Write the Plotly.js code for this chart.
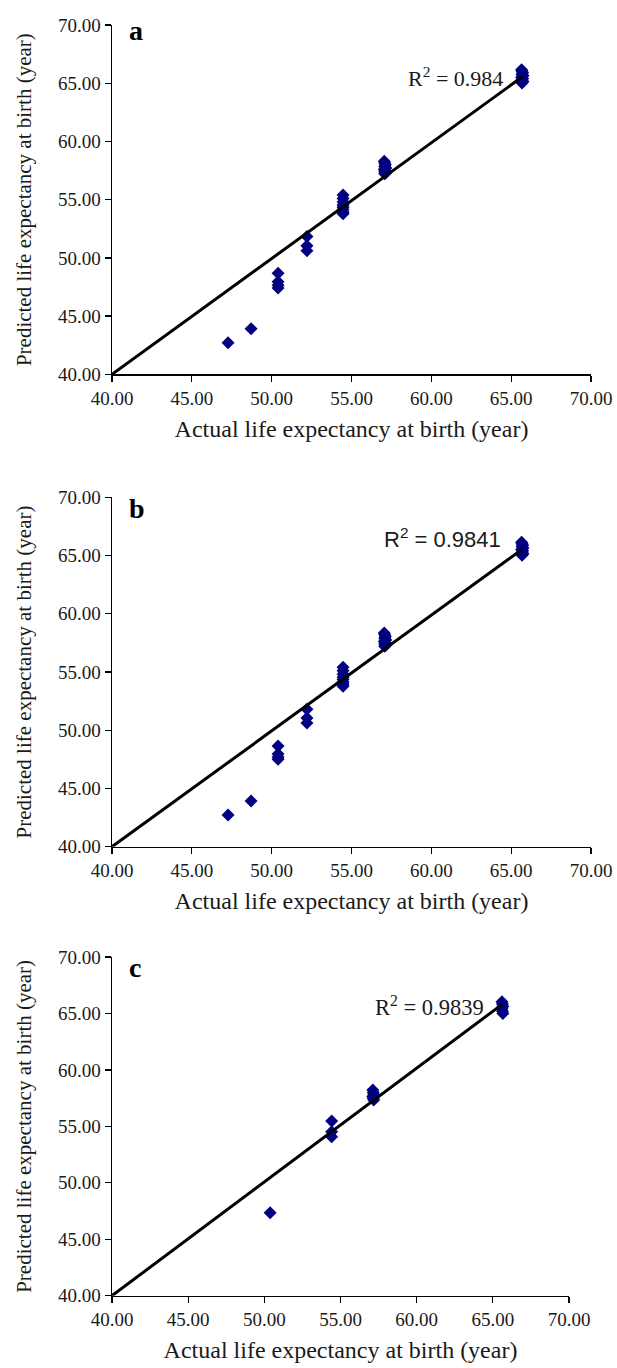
<!DOCTYPE html>
<html>
<head>
<meta charset="utf-8">
<script src="https://cdn.plot.ly/plotly-3.0.1.min.js"></script>
<style>html,body{margin:0;padding:0;background:#fff;}#chart{width:617px;height:1368px;}</style>
</head>
<body>
<div id="chart"></div>
<script>
// Panel a
const aActual = [47.27, 48.71, 50.40, 50.40, 50.40, 50.40, 52.21, 52.21, 52.21,
  54.47, 54.47, 54.47, 54.47, 54.47, 54.47, 54.47, 54.47,
  57.05, 57.08, 57.12, 57.08, 57.15, 57.05, 57.12, 57.08, 57.15, 57.08,
  65.65, 65.68, 65.72, 65.68, 65.74, 65.65, 65.72, 65.68, 65.74, 65.68];
const aPred = [42.72, 43.92, 48.68, 47.95, 47.65, 47.42, 51.83, 51.05, 50.62,
  55.41, 55.10, 54.80, 54.55, 54.35, 54.15, 53.95, 53.78,
  58.30, 58.15, 58.00, 57.85, 57.72, 57.60, 57.50, 57.40, 57.30, 57.22,
  66.15, 66.02, 65.90, 65.78, 65.65, 65.52, 65.40, 65.28, 65.15, 65.02];
const aFitX = [40.00, 65.70];
const aFitY = [40.00, 65.55];
// Panel b
const bActual = [47.27, 48.71, 50.40, 50.40, 50.40, 50.40, 52.21, 52.21, 52.21,
  54.47, 54.47, 54.47, 54.47, 54.47, 54.47, 54.47, 54.47,
  57.05, 57.08, 57.12, 57.08, 57.15, 57.05, 57.12, 57.08, 57.15, 57.08,
  65.65, 65.68, 65.72, 65.68, 65.74, 65.65, 65.72, 65.68, 65.74, 65.68];
const bPred = [42.72, 43.92, 48.65, 47.95, 47.70, 47.50, 51.80, 51.05, 50.62,
  55.40, 55.10, 54.80, 54.55, 54.35, 54.15, 53.95, 53.78,
  58.35, 58.20, 58.05, 57.90, 57.75, 57.62, 57.50, 57.40, 57.30, 57.22,
  66.15, 66.02, 65.90, 65.78, 65.65, 65.52, 65.40, 65.28, 65.15, 65.02];
const bFitX = [40.00, 65.70];
const bFitY = [40.00, 65.55];
// Panel c
const cActual = [50.38, 54.42, 54.42, 54.42,
  57.12, 57.15, 57.18, 57.12, 57.15, 57.18,
  65.60, 65.63, 65.66, 65.60, 65.63, 65.66];
const cPred = [47.35, 55.47, 54.52, 54.08,
  58.21, 58.00, 57.82, 57.65, 57.48, 57.33,
  66.03, 65.83, 65.62, 65.42, 65.20, 65.00];
const cFitX = [40.00, 65.63];
const cFitY = [40.00, 65.83];

const panelLetters = ['a', 'b', 'c'];
const r2Labels = ['R<sup>2</sup> = 0.984', 'R<sup>2</sup> = 0.9841', 'R<sup>2</sup> = 0.9839'];
const tickValues = [40, 45, 50, 55, 60, 65, 70];
const xTitle = 'Actual life expectancy at birth (year)';
const yTitle = 'Predicted life expectancy at birth (year)';

const W = 617, H = 1368;
const serif = 'Liberation Serif, Times New Roman, serif';
const sans = 'Liberation Sans, Arial, sans-serif';

// pixel boxes: [left, right, top, bottom]
const boxes = [[112, 591, 25, 374.3], [112, 591, 497.3, 846.7], [112, 569, 957, 1295.7]];
const letterPos = [[127, 31], [127, 508], [127, 967]];
const r2Pos = [[505, 77, serif, 22], [503, 538, sans, 22], [486, 1006, serif, 22.5]];
const dataSets = [[aActual, aPred, aFitX, aFitY], [bActual, bPred, bFitX, bFitY], [cActual, cPred, cFitX, cFitY]];

const traces = [];
const layout = {
  width: W, height: H,
  margin: {l: 0, r: 0, t: 0, b: 0},
  paper_bgcolor: '#fff', plot_bgcolor: '#fff',
  showlegend: false,
  annotations: []
};

boxes.forEach((b, i) => {
  const n = i === 0 ? '' : String(i + 1);
  const xa = 'x' + n, ya = 'y' + n;
  const [ax, ay, fx, fy] = dataSets[i];
  traces.push({
    x: ax, y: ay, xaxis: xa, yaxis: ya, type: 'scatter', mode: 'markers',
    marker: {symbol: 'diamond', size: 10, color: '#000080', line: {width: 0}},
    hoverinfo: 'x+y'
  });
  traces.push({
    x: fx, y: fy, xaxis: xa, yaxis: ya, type: 'scatter', mode: 'lines',
    line: {color: '#000000', width: 3}, hoverinfo: 'skip'
  });
  const axCommon = {
    range: [40, 70], tickvals: tickValues, tickformat: '.2f',
    showgrid: false, zeroline: false, showline: true, linecolor: '#000', linewidth: 1.5,
    ticks: 'outside', ticklen: 6, tickwidth: 1.3, tickcolor: '#000',
    tickfont: {family: serif, size: 19, color: '#1a1a1a'}, fixedrange: true
  };
  layout['xaxis' + n] = Object.assign({}, axCommon, {
    domain: [b[0] / W, b[1] / W], anchor: ya,
    title: {text: xTitle, font: {family: serif, size: 24, color: '#1a1a1a'}, standoff: 12}
  });
  layout['yaxis' + n] = Object.assign({}, axCommon, {
    domain: [1 - b[3] / H, 1 - b[2] / H], anchor: xa,
    title: {text: yTitle, font: {family: serif, size: 21, color: '#1a1a1a'}, standoff: 20}
  });
  layout.annotations.push({
    xref: 'paper', yref: 'paper', x: letterPos[i][0] / W, y: 1 - letterPos[i][1] / H,
    xanchor: 'left', yanchor: 'middle', showarrow: false,
    text: '<b>' + panelLetters[i] + '</b>',
    font: {family: serif, size: 28, color: '#000'}
  });
  layout.annotations.push({
    xref: 'paper', yref: 'paper', x: r2Pos[i][0] / W, y: 1 - r2Pos[i][1] / H,
    xanchor: 'right', yanchor: 'middle', showarrow: false,
    text: r2Labels[i], font: {family: r2Pos[i][2], size: r2Pos[i][3], color: '#1a1a1a'}
  });
});

Plotly.newPlot('chart', traces, layout, {displayModeBar: false, staticPlot: true});
</script>
</body>
</html>
